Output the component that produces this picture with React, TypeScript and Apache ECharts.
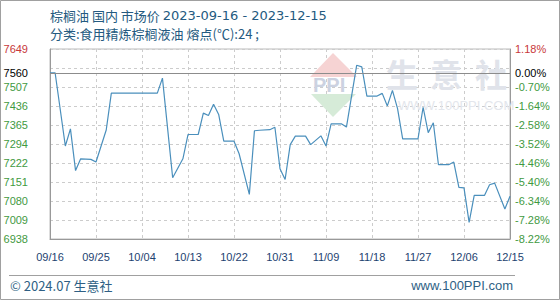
import React, { useEffect, useRef } from 'react';
import * as echarts from 'echarts';

const startDate = '2023-09-16';
const dates = [
  '2023-09-16', '2023-09-17', '2023-09-19', '2023-09-20', '2023-09-21', '2023-09-22', '2023-09-24', '2023-09-25',
  '2023-09-27', '2023-09-28', '2023-10-07', '2023-10-08', '2023-10-10', '2023-10-12', '2023-10-13', '2023-10-15',
  '2023-10-16', '2023-10-17', '2023-10-18', '2023-10-19', '2023-10-20', '2023-10-22', '2023-10-23', '2023-10-25',
  '2023-10-26', '2023-10-27', '2023-10-29', '2023-10-30', '2023-10-31', '2023-11-01', '2023-11-02', '2023-11-03',
  '2023-11-05', '2023-11-06', '2023-11-08', '2023-11-09', '2023-11-10', '2023-11-12', '2023-11-13', '2023-11-15',
  '2023-11-16', '2023-11-17', '2023-11-19', '2023-11-20', '2023-11-21', '2023-11-22', '2023-11-23', '2023-11-24',
  '2023-11-27', '2023-11-28', '2023-11-29', '2023-11-30', '2023-12-01', '2023-12-03', '2023-12-04', '2023-12-05',
  '2023-12-06', '2023-12-07', '2023-12-08', '2023-12-10', '2023-12-11', '2023-12-12', '2023-12-14', '2023-12-15',
];
const prices = [
  7560, 7560, 7286, 7350, 7194, 7238, 7236, 7226,
  7346, 7484, 7484, 7540, 7167, 7238, 7329, 7329,
  7409, 7400, 7442, 7404, 7304, 7304, 7257, 7105,
  7343, 7345, 7347, 7356, 7201, 7161, 7291, 7323,
  7323, 7291, 7324, 7286, 7369, 7369, 7357, 7588,
  7582, 7473, 7473, 7483, 7436, 7494, 7426, 7313,
  7313, 7431, 7336, 7373, 7216, 7216, 7226, 7131,
  7129, 7000, 7101, 7101, 7141, 7147, 7050, 7098,
];
const xTickLabels = ['09/16', '09/25', '10/04', '10/13', '10/22', '10/31', '11/09', '11/18', '11/27', '12/06', '12/15'];
const leftTicks = [6938, 7009, 7080, 7151, 7222, 7294, 7365, 7436, 7507, 7560, 7649];
const rightTickLabels = ['-8.22%', '-7.28%', '-6.34%', '-5.40%', '-4.46%', '-3.52%', '-2.58%', '-1.64%', '-0.70%', '0.00%', '1.18%'];
const baseValue = 7560;
const yMin = 6938;
const yMax = 7649;
const spanDays = 90;
const tickDays = 9;

const titleName = '棕榈油 国内 市场价 ';
const titleRange = '2023-09-16 - 2023-12-15';
const subText = '分类:食用精炼棕榈液油 熔点(℃):24 ;';
const footLeft = '© 2024.07 生意社';
const footRight = 'www.100PPI.com';

const RED = '#c8383a';
const GREEN = '#3f9a3f';
const CJK = '"Noto Sans CJK SC", "Noto Sans", sans-serif';
const SANS = '"Liberation Sans", Arial, sans-serif';
const DEJAVU = '"DejaVu Sans", sans-serif';

function dayIndex(d: string) {
  return Math.round((Date.parse(d) - Date.parse(startDate)) / 86400000);
}

function labelColor(v: any) {
  const n = Number(v);
  if (n === yMax) return RED;
  if (n === baseValue) return '#000';
  return GREEN;
}

export default function App() {
  const ref = useRef<HTMLDivElement>(null);
  useEffect(() => {
    if (!ref.current) return;
    const chart = echarts.init(ref.current, null, { renderer: 'svg' });
    const seriesData = dates.map((d, i) => [dayIndex(d), prices[i]]);
    const option: any = {
      animation: false,
      backgroundColor: '#fff',
      grid: {
        left: 50, right: 50, top: 49, bottom: 61,
        show: true, borderColor: '#bbb', borderWidth: 1,
        containLabel: false, outerBoundsMode: 'none',
      },
      xAxis: {
        type: 'value', min: 0, max: spanDays, interval: tickDays,
        axisLine: { show: true, lineStyle: { color: '#999', width: 1 } },
        axisTick: { show: false },
        axisLabel: {
          margin: 12, color: '#1d4270', fontSize: 11, fontFamily: SANS,
          formatter: (v: number) => xTickLabels[Math.round(v / tickDays)] ?? '',
        },
        splitLine: { show: true, lineStyle: { color: '#cccccc', type: [3, 3], width: 1 } },
      },
      yAxis: [
        {
          type: 'value', min: yMin, max: yMax, position: 'left',
          axisLine: { show: true, lineStyle: { color: '#999', width: 1 } },
          axisTick: { show: false, customValues: leftTicks },
          axisLabel: {
            customValues: leftTicks, margin: 22, fontSize: 11, fontFamily: SANS,
            color: (v: any) => labelColor(v),
            formatter: (v: number) => String(Math.round(v)),
          },
          splitLine: { show: false },
        },
        {
          type: 'value', min: yMin, max: yMax, position: 'right',
          axisLine: { show: true, lineStyle: { color: '#999', width: 1 } },
          axisTick: { show: false, customValues: leftTicks },
          axisLabel: {
            customValues: leftTicks, margin: 5, fontSize: 11, fontFamily: SANS,
            color: (v: any) => labelColor(v),
            formatter: (v: number) => {
              const i = leftTicks.indexOf(Math.round(v));
              return i >= 0 ? rightTickLabels[i] : '';
            },
          },
          splitLine: { show: false },
        },
        {
          type: 'value', min: 0, max: 10, interval: 1, position: 'left',
          axisLine: { show: false }, axisTick: { show: false }, axisLabel: { show: false },
          splitLine: { show: true, lineStyle: { color: '#cccccc', type: [3, 3], width: 1 } },
        },
      ],
      graphic: [
        { type: 'rect', z: 0, silent: true, shape: { x: 0.5, y: 0.5, width: 559, height: 299 }, style: { fill: 'none', stroke: '#a0a0a0', lineWidth: 1 } },
        { type: 'polygon', z: 1, silent: true, shape: { points: [[333, 53], [357, 77], [310, 77]] }, style: { fill: '#f6d3d3' } },
        { type: 'polygon', z: 1, silent: true, shape: { points: [[311, 94], [356, 94], [333, 117]] }, style: { fill: '#d6ebd8' } },
        { type: 'text', z: 1, silent: true, x: 313, y: 85, style: { text: 'PPI', fill: '#ccd2e1', font: `bold 20px ${SANS}`, verticalAlign: 'middle' } },
        { type: 'text', z: 1, silent: true, x: 386, y: 73, style: { text: '生', fill: '#e0e3ea', font: `bold 32px ${CJK}`, verticalAlign: 'middle' } },
        { type: 'text', z: 1, silent: true, x: 430, y: 73, style: { text: '意', fill: '#e0e3ea', font: `bold 32px ${CJK}`, verticalAlign: 'middle' } },
        { type: 'text', z: 1, silent: true, x: 475, y: 73, style: { text: '社', fill: '#e0e3ea', font: `bold 32px ${CJK}`, verticalAlign: 'middle' } },
        { type: 'text', z: 1, silent: true, x: 398, y: 105, style: { text: 'WWW.100PPI.COM', fill: '#e3e6ec', font: `13px ${SANS}`, verticalAlign: 'middle' } },
        {
          type: 'text', z: 5, silent: true, x: 50, y: 15,
          style: {
            text: `{a|${titleName}}{b|${titleRange}}`, verticalAlign: 'middle',
            rich: {
              a: { fill: '#245a80', font: `13px ${CJK}` },
              b: { fill: '#245a80', font: `13px ${DEJAVU}` },
            },
          },
        },
        { type: 'text', z: 5, silent: true, x: 50, y: 33, style: { text: subText, fill: '#245a80', font: `13px ${CJK}`, verticalAlign: 'middle' } },
        { type: 'line', z: 5, silent: true, shape: { x1: 9, y1: 275.5, x2: 515, y2: 275.5 }, style: { stroke: '#a0a0a0', lineWidth: 1 } },
        { type: 'text', z: 5, silent: true, x: 10, y: 285, style: { text: footLeft, fill: '#2e5f84', font: `13px ${CJK}`, verticalAlign: 'middle' } },
        { type: 'text', z: 5, silent: true, x: 513, y: 285, style: { text: footRight, fill: '#2e5f84', font: `13px ${SANS}`, align: 'right', verticalAlign: 'middle' } },
      ],
      series: [
        {
          type: 'line', xAxisIndex: 0, yAxisIndex: 0, data: seriesData,
          showSymbol: false, symbol: 'none', z: 3,
          lineStyle: { color: '#4a8fbc', width: 1.2 },
          itemStyle: { color: '#4a8fbc' },
          markLine: {
            silent: true, symbol: 'none', label: { show: false },
            lineStyle: { color: '#8c8c8c', type: 'solid', width: 1 },
            data: [{ yAxis: baseValue }],
          },
        },
      ],
    };
    chart.setOption(option);
    return () => chart.dispose();
  }, []);
  return <div ref={ref} style={{ position: 'fixed', left: 0, top: 0, width: 560, height: 300 }} />;
}
